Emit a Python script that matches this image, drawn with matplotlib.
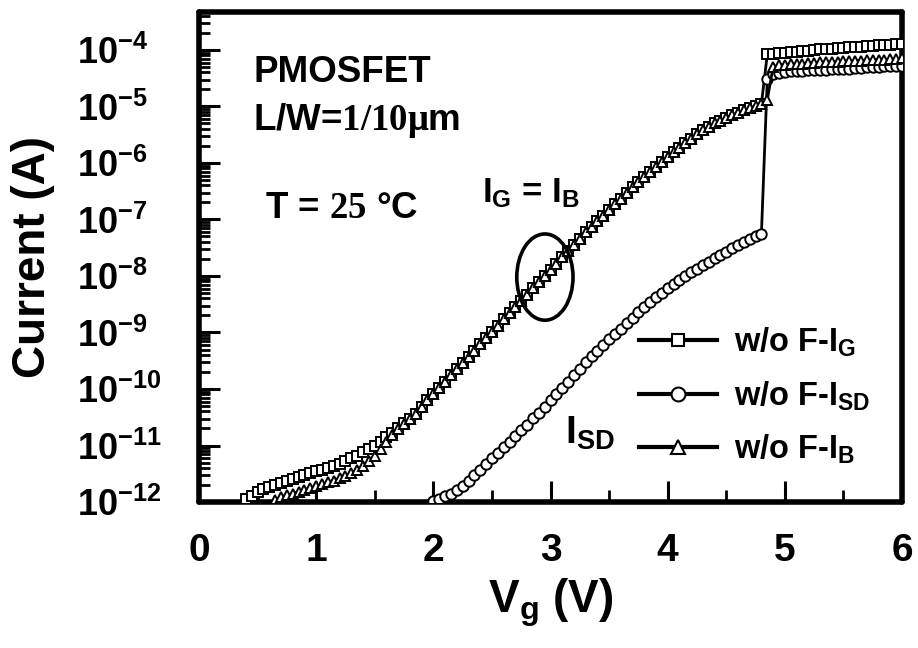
import numpy as np
import matplotlib
matplotlib.use("Agg")
import matplotlib.pyplot as plt
from matplotlib.patches import Ellipse
from matplotlib.lines import Line2D
from matplotlib.ticker import FixedLocator, FuncFormatter, MultipleLocator

# ---------------- data (log10 of current in A, sweep step 0.05 V) ----------------
vg_step = 0.05
ig_start = 0.40
ig_log = [-11.95, -11.89, -11.83, -11.77, -11.73, -11.70, -11.66, -11.63, -11.59, -11.56,
          -11.52, -11.49, -11.46, -11.43, -11.40, -11.36, -11.32, -11.27, -11.23, -11.18,
          -11.12, -11.06, -11.00, -10.93, -10.85, -10.77, -10.69, -10.61, -10.53, -10.44,
          -10.32, -10.20, -10.09, -9.98, -9.87, -9.76, -9.65, -9.54, -9.43, -9.32,
          -9.21, -9.10, -8.99, -8.88, -8.77, -8.66, -8.55, -8.44, -8.33, -8.22,
          -8.11, -8.00, -7.89, -7.78, -7.67, -7.56, -7.45, -7.34, -7.23, -7.13,
          -7.03, -6.93, -6.83, -6.73, -6.63, -6.53, -6.43, -6.34, -6.25, -6.16,
          -6.07, -5.98, -5.89, -5.81, -5.73, -5.65, -5.57, -5.49, -5.42, -5.36,
          -5.30, -5.25, -5.20, -5.15, -5.11, -5.07, -5.03, -4.99, -4.95, -4.08,
          -4.07, -4.06, -4.05, -4.04, -4.03, -4.02, -4.01, -4.00, -3.99, -3.98,
          -3.98, -3.97, -3.96, -3.95, -3.95, -3.94, -3.93, -3.93, -3.92, -3.92,
          -3.91, -3.90, -3.90]

ib_start = 0.65
ib_log = [-11.96, -11.91, -11.88, -11.85, -11.82, -11.78, -11.75, -11.72, -11.69, -11.65,
          -11.62, -11.58, -11.54, -11.49, -11.43, -11.36, -11.28, -11.18, -11.06, -10.94,
          -10.82, -10.71, -10.62, -10.53, -10.44,
          -10.32, -10.20, -10.09, -9.98, -9.87, -9.76, -9.65, -9.54, -9.43, -9.32,
          -9.21, -9.10, -8.99, -8.88, -8.77, -8.66, -8.55, -8.44, -8.33, -8.22,
          -8.11, -8.00, -7.89, -7.78, -7.67, -7.56, -7.45, -7.34, -7.23, -7.13,
          -7.03, -6.93, -6.83, -6.73, -6.63, -6.53, -6.43, -6.34, -6.25, -6.16,
          -6.07, -5.98, -5.89, -5.81, -5.73, -5.65, -5.57, -5.49, -5.42, -5.36,
          -5.30, -5.25, -5.20, -5.15, -5.11, -5.07, -5.03, -4.99, -4.95, -4.88,
          -4.30, -4.27, -4.26, -4.25, -4.25, -4.24, -4.23, -4.23, -4.22, -4.22,
          -4.21, -4.21, -4.20, -4.20, -4.19, -4.19, -4.18, -4.18, -4.17, -4.17,
          -4.16, -4.16, -4.15]

isd_start = 2.00
isd_log = [-11.99, -11.95, -11.90, -11.85, -11.79, -11.72, -11.63, -11.53, -11.43, -11.33,
           -11.23, -11.13, -11.03, -10.93, -10.83, -10.73, -10.63, -10.52, -10.42, -10.31,
           -10.20, -10.09, -9.98, -9.87, -9.76, -9.64, -9.52, -9.42, -9.32, -9.22,
           -9.12, -9.02, -8.93, -8.83, -8.74, -8.64, -8.55, -8.46, -8.38, -8.30,
           -8.22, -8.14, -8.07, -8.00, -7.93, -7.87, -7.81, -7.75, -7.69, -7.63,
           -7.57, -7.51, -7.45, -7.40, -7.35, -7.30, -7.25, -4.52, -4.43, -4.40,
           -4.39, -4.38, -4.38, -4.37, -4.36, -4.36, -4.35, -4.35, -4.34, -4.34,
           -4.33, -4.33, -4.32, -4.32, -4.31, -4.30, -4.30, -4.29, -4.29, -4.28,
           -4.28]

series_labels = ["w/o F-I$_{G}$", "w/o F-I$_{SD}$", "w/o F-I$_{B}$"]
x_ticks = [0, 1, 2, 3, 4, 5, 6]
y_decades = [-12, -11, -10, -9, -8, -7, -6, -5, -4]


def sweep(start, vals):
    return start + vg_step * np.arange(len(vals))


# ---------------- style ----------------
plt.rcParams["font.family"] = ["Liberation Sans", "DejaVu Sans"]
plt.rcParams["font.weight"] = "bold"
plt.rcParams["mathtext.fontset"] = "custom"
plt.rcParams["mathtext.rm"] = "Liberation Serif"
plt.rcParams["mathtext.bf"] = "Liberation Sans:bold"
plt.rcParams["mathtext.sf"] = "Liberation Sans:bold"
plt.rcParams["mathtext.it"] = "Liberation Sans:bold"
plt.rcParams["mathtext.default"] = "bf"

fig = plt.figure(figsize=(9.18, 6.48), dpi=100)
ax = fig.add_axes([0.2168, 0.2253, 0.7658, 0.7562])

common = dict(color="black", lw=2.0, mfc="white", mec="black", mew=1.4)
ax.plot(sweep(ig_start, ig_log), 10.0 ** np.array(ig_log), marker="s", ms=6.5, zorder=3, **common)
ax.plot(sweep(isd_start, isd_log), 10.0 ** np.array(isd_log), marker="o", ms=7.5, zorder=4, **common)
ax.plot(sweep(ib_start, ib_log), 10.0 ** np.array(ib_log), marker="^", ms=7.5, zorder=5, **common)

ax.set_yscale("log")
ax.set_xlim(0, 6)
ax.set_ylim(1e-12, 4.7e-4)

ax.xaxis.set_major_locator(FixedLocator(x_ticks))
ax.xaxis.set_minor_locator(MultipleLocator(0.5))
ax.set_xticklabels([str(v) for v in x_ticks])

ax.yaxis.set_major_locator(FixedLocator([10.0 ** d for d in y_decades]))
minor = [m * 10.0 ** d for d in y_decades for m in range(2, 10)]
ax.yaxis.set_minor_locator(FixedLocator(minor))
ax.yaxis.set_major_formatter(FuncFormatter(lambda v, p: r"$10^{%d}$" % int(round(np.log10(v)))))
ax.yaxis.set_minor_formatter(FuncFormatter(lambda v, p: ""))

for s in ax.spines.values():
    s.set_linewidth(4)
    s.set_capstyle("round")

ax.tick_params(axis="both", which="both", direction="in", top=False, right=False)
ax.tick_params(axis="y", which="major", length=15, width=2.2, labelsize=26, pad=88)
ax.tick_params(axis="y", which="minor", length=8, width=2.0)
ax.tick_params(axis="x", which="major", length=15, width=2.2, labelsize=28, pad=22)
ax.tick_params(axis="x", which="minor", length=9, width=2.0)
for lab in ax.get_yticklabels():
    lab.set_horizontalalignment("left")

ax.set_ylabel("Current (A)", fontsize=33, fontweight="bold")
ax.yaxis.set_label_coords(-0.205, 0.5)
ax.set_xlabel("V$_{g}$ (V)", fontsize=33, fontweight="bold", labelpad=6)

# annotations
ax.text(0.077, 0.857, "PMOSFET", transform=ax.transAxes, fontsize=26.5, fontweight="bold", va="baseline")
ax.text(0.077, 0.759, r"L/W=$\mathrm{1/10\mu}$m", transform=ax.transAxes, fontsize=26.5,
        fontweight="bold", va="baseline")
ax.text(0.094, 0.580, r"T = $\mathrm{25}$ °C", transform=ax.transAxes, fontsize=26.5,
        fontweight="bold", va="baseline")
ax.text(0.403, 0.612, "I$_{G}$ = I$_{B}$", transform=ax.transAxes, fontsize=25,
        fontweight="bold", va="baseline")
ax.text(0.52, 0.12, "I$_{SD}$", transform=ax.transAxes, fontsize=28,
        fontweight="bold", va="baseline")
ax.add_patch(Ellipse((0.492, 0.459), 0.080, 0.176, transform=ax.transAxes,
                     fill=False, edgecolor="black", lw=2.6, zorder=6))

# legend
handles = [
    Line2D([], [], color="black", lw=3, marker="s", ms=9, mfc="white", mec="black", mew=1.5),
    Line2D([], [], color="black", lw=3, marker="o", ms=10, mfc="white", mec="black", mew=1.5),
    Line2D([], [], color="black", lw=3, marker="^", ms=10, mfc="white", mec="black", mew=1.5),
]
ax.legend(handles, series_labels, loc="upper left", bbox_to_anchor=(0.626, 0.36),
          frameon=False, handlelength=2.4, handletextpad=0.5,
          labelspacing=0.62, borderpad=0, borderaxespad=0, prop={"weight": "bold", "size": 23.5})

fig.savefig("out.png", dpi=100)
